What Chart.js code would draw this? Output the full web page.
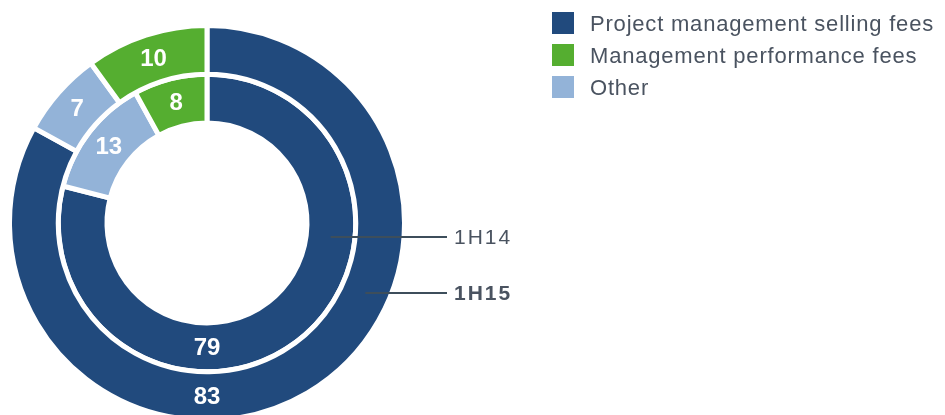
<!DOCTYPE html>
<html>
<head>
<meta charset="utf-8">
<script src="https://cdn.jsdelivr.net/npm/chart.js@4"></script>
<style>
  html, body { margin: 0; padding: 0; background: #fff; overflow: hidden; }
  body { width: 945px; height: 415px; position: relative; font-family: "Liberation Sans", Arial, sans-serif; }
  #chart { position: absolute; left: 0; top: 0; }
  .legend { position: absolute; left: 552px; top: 12px; }
  .legend .row { display: flex; align-items: center; height: 22px; margin-bottom: 10px; }
  .legend .box { width: 22px; height: 22px; margin-right: 16px; }
  .legend .txt { font-size: 22px; letter-spacing: 0.8px; color: #4a5360; position: relative; top: 1px; white-space: nowrap; }
</style>
</head>
<body>
<canvas id="chart" width="945" height="423"></canvas>
<div class="legend" id="legend"></div>
<script>
// categories and series
const categories = ['Project management selling fees', 'Other', 'Management performance fees'];
const legendOrder = [0, 2, 1];
const seriesNames = ['1H15', '1H14'];   // outer ring, inner ring
const values1H15 = [83, 7, 10];
const values1H14 = [79, 13, 8];
const colors = ['#214a7d', '#93b3d8', '#55ae30'];

// build the html legend
const legendEl = document.getElementById('legend');
legendOrder.forEach(i => {
    const row = document.createElement('div');
    row.className = 'row';
    row.innerHTML = '<div class="box" style="background:' + colors[i] + '"></div><div class="txt">' + categories[i] + '</div>';
    legendEl.appendChild(row);
});

// white value labels + leader lines to the ring names
const ringLabels = {
    id: 'ringLabels',
    afterDatasetsDraw(chart) {
        const ctx = chart.ctx;
        ctx.save();
        ctx.font = 'bold 24px "Liberation Sans", Arial, sans-serif';
        ctx.fillStyle = '#ffffff';
        ctx.textAlign = 'center';
        ctx.textBaseline = 'middle';
        chart.data.datasets.forEach((ds, i) => {
            chart.getDatasetMeta(i).data.forEach((arc, j) => {
                let angle = (arc.startAngle + arc.endAngle) / 2;
                // big slices get their label at the bottom of the ring
                if (arc.endAngle - arc.startAngle > Math.PI) angle = Math.PI / 2;
                const r = (arc.innerRadius + arc.outerRadius) / 2;
                ctx.fillText(ds.data[j], arc.x + Math.cos(angle) * r, arc.y + Math.sin(angle) * r + 1);
            });
        });

        // leader lines
        const lineOffsets = [70, 14];
        const lineEnd = 447;
        chart.data.datasets.forEach((ds, i) => {
            const arc = chart.getDatasetMeta(i).data[0];
            const r = arc.innerRadius + 0.5 * (arc.outerRadius - arc.innerRadius);
            const dy = lineOffsets[i];
            const y = arc.y + dy;
            const x0 = arc.x + Math.sqrt(r * r - dy * dy);
            ctx.strokeStyle = '#3d4e5b';
            ctx.lineWidth = 2;
            ctx.beginPath();
            ctx.moveTo(x0, y);
            ctx.lineTo(lineEnd, y);
            ctx.stroke();

            ctx.fillStyle = '#4a5360';
            ctx.textAlign = 'left';
            ctx.font = (i === 0 ? 'bold ' : '') + '21px "Liberation Sans", Arial, sans-serif';
            ctx.letterSpacing = '2px';
            ctx.fillText(ds.label, lineEnd + 7, y + 1);
            ctx.letterSpacing = '0px';
        });
        ctx.restore();
    }
};

const ctx = document.getElementById('chart').getContext('2d');
const chart = new Chart(ctx, {
    type: 'doughnut',
    data: {
        labels: categories,
        datasets: [
            {
                label: seriesNames[0],
                data: values1H15,
                backgroundColor: colors,
                borderColor: '#ffffff',
                borderWidth: 5,
                hoverBorderWidth: 5
            },
            {
                label: seriesNames[1],
                data: values1H14,
                backgroundColor: colors,
                borderColor: '#ffffff',
                borderWidth: 5,
                hoverBorderWidth: 5
            }
        ]
    },
    options: {
        responsive: false,
        animation: false,
        cutout: 100,
        layout: {
            padding: { left: 7, top: 23, right: 538, bottom: 0 }
        },
        plugins: {
            legend: { display: false },
            tooltip: { enabled: false }
        }
    },
    plugins: [ringLabels]
});
</script>
</body>
</html>
